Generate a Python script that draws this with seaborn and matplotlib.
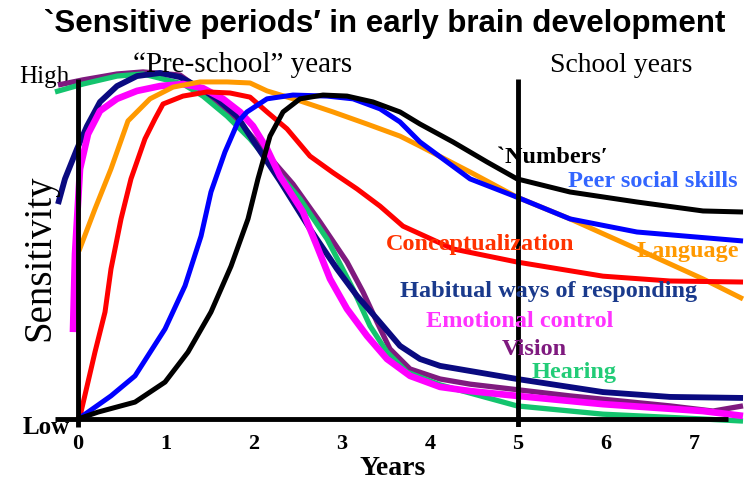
import numpy as np
import pandas as pd
import matplotlib
matplotlib.use("Agg")
import matplotlib.pyplot as plt
import seaborn as sns

# ---- data (years, relative sensitivity 0=Low .. 1=High) ----
vision_x = [-0.227, 0.057, 0.443, 0.739, 1.159, 1.534, 1.920, 2.443, 2.750, 3.057, 3.239, 3.398, 3.545, 3.773, 4.114, 4.455, 5.591, 6.727, 7.216, 7.557]
vision_y = [0.968, 0.983, 1.0, 1.006, 0.997, 0.928, 0.835, 0.681, 0.571, 0.455, 0.368, 0.281, 0.203, 0.145, 0.116, 0.101, 0.067, 0.038, 0.023, 0.038]

hearing_x = [-0.261, 0.057, 0.443, 0.739, 1.193, 1.420, 1.693, 1.955, 2.523, 2.830, 3.125, 3.318, 3.511, 3.739, 4.114, 4.989, 5.966, 7.102, 7.557]
hearing_y = [0.948, 0.971, 0.994, 1.0, 0.971, 0.936, 0.878, 0.812, 0.638, 0.522, 0.377, 0.270, 0.194, 0.136, 0.099, 0.038, 0.014, 0.0, -0.006]

habitual_x = [-0.227, -0.148, -0.011, 0.102, 0.25, 0.443, 0.670, 0.932, 1.159, 1.352, 1.580, 1.807, 1.977, 2.295, 2.636, 2.943, 3.170, 3.398, 3.659, 3.886, 4.114, 4.989, 5.966, 6.727, 7.557]
habitual_y = [0.623, 0.696, 0.783, 0.849, 0.919, 0.965, 0.994, 1.003, 0.991, 0.965, 0.928, 0.878, 0.812, 0.690, 0.551, 0.435, 0.357, 0.290, 0.212, 0.174, 0.154, 0.116, 0.078, 0.064, 0.061]

emotional_x = [-0.057, -0.034, 0.023, 0.114, 0.25, 0.443, 0.670, 0.932, 1.193, 1.420, 1.648, 1.841, 1.989, 2.148, 2.295, 2.557, 2.716, 2.864, 3.057, 3.284, 3.511, 3.773, 4.114, 4.455, 4.989, 5.966, 7.102, 7.557]
emotional_y = [0.252, 0.478, 0.725, 0.826, 0.893, 0.928, 0.951, 0.965, 0.971, 0.959, 0.928, 0.890, 0.849, 0.783, 0.704, 0.600, 0.501, 0.406, 0.319, 0.241, 0.174, 0.125, 0.093, 0.081, 0.067, 0.043, 0.023, 0.009]

language_x = [0.011, 0.193, 0.375, 0.568, 0.818, 1.080, 1.386, 1.693, 1.955, 2.148, 2.523, 2.898, 3.284, 3.659, 3.886, 4.455, 4.989, 5.591, 6.352, 7.102, 7.557]
language_y = [0.487, 0.609, 0.725, 0.864, 0.928, 0.962, 0.977, 0.977, 0.974, 0.951, 0.922, 0.890, 0.855, 0.820, 0.791, 0.716, 0.643, 0.580, 0.493, 0.406, 0.348]

concept_x = [0.0, 0.034, 0.193, 0.307, 0.375, 0.489, 0.602, 0.761, 0.875, 0.966, 1.193, 1.466, 1.727, 1.955, 2.148, 2.375, 2.636, 2.898, 3.170, 3.432, 3.693, 4.261, 4.989, 5.966, 6.727, 7.557]
concept_y = [0.0, 0.020, 0.194, 0.310, 0.435, 0.580, 0.696, 0.812, 0.870, 0.913, 0.936, 0.948, 0.945, 0.933, 0.890, 0.841, 0.762, 0.714, 0.667, 0.617, 0.559, 0.493, 0.455, 0.414, 0.400, 0.397]

peer_x = [0.0, 0.114, 0.375, 0.648, 0.989, 1.216, 1.398, 1.511, 1.670, 1.818, 1.920, 2.148, 2.443, 2.830, 3.125, 3.432, 3.659, 3.886, 4.455, 4.989, 5.591, 6.352, 7.557]
peer_y = [0.0, 0.020, 0.067, 0.125, 0.261, 0.386, 0.530, 0.658, 0.774, 0.861, 0.890, 0.928, 0.939, 0.936, 0.928, 0.899, 0.861, 0.803, 0.696, 0.643, 0.580, 0.542, 0.516]

numbers_x = [0.0, 0.227, 0.648, 0.989, 1.250, 1.511, 1.739, 1.932, 2.045, 2.182, 2.330, 2.523, 2.784, 3.057, 3.352, 3.659, 3.886, 4.261, 4.648, 4.989, 5.591, 6.352, 7.102, 7.557]
numbers_y = [0.0, 0.020, 0.049, 0.107, 0.194, 0.310, 0.443, 0.580, 0.696, 0.820, 0.890, 0.928, 0.939, 0.936, 0.919, 0.890, 0.855, 0.803, 0.745, 0.696, 0.658, 0.629, 0.603, 0.600]

series_names = ["Vision", "Hearing", "Habitual ways of responding", "Emotional control",
                "Language", "Conceptualization", "Peer social skills", "`Numbers\u2032"]
series_x = [vision_x, hearing_x, habitual_x, emotional_x, language_x, concept_x, peer_x, numbers_x]
series_y = [vision_y, hearing_y, habitual_y, emotional_y, language_y, concept_y, peer_y, numbers_y]

line_colors = ["#7f1a7f", "#14c46e", "#0a0a80", "#ff00ff", "#ff9900", "#ff0000", "#0000ff", "#000000"]
line_widths = [3.8, 3.8, 4.2, 4.8, 3.6, 3.6, 3.6, 3.6]

label_colors = ["#7f1a7f", "#22cc77", "#1a3a8c", "#ff33ff", "#ff9900", "#ff3300", "#3366ff", "#000000"]
# label anchor (year, sensitivity) at text baseline centre
label_x = [5.182, 5.636, 5.352, 5.023, 6.932, 4.568, 6.534, 5.386]
label_y = [0.188, 0.122, 0.357, 0.270, 0.473, 0.493, 0.675, 0.745]

year_ticks = [0, 1, 2, 3, 4, 5, 6, 7]
level_ticks = ["Low", "High"]

# ---- figure ----
sns.set_theme(style="white")
plt.rcParams["font.family"] = ["Liberation Serif", "DejaVu Serif"]
plt.rcParams["text.color"] = "black"
plt.rcParams["xtick.color"] = "black"
plt.rcParams["ytick.color"] = "black"
plt.rcParams["axes.labelcolor"] = "black"

W, H = 751, 481
fig = plt.figure(figsize=(W / 100, H / 100), dpi=100)
ax = fig.add_axes([78 / W, (H - 428) / H, 650 / W, 353 / H])
ax.set_xlim(0, 650 / 88)
ax.set_ylim(-8 / 345, 1.0)

df = pd.concat([pd.DataFrame({"year": x, "sens": y, "series": n})
                for n, x, y in zip(series_names, series_x, series_y)], ignore_index=True)

for n, c, lw in zip(series_names, line_colors, line_widths):
    sub = df[df["series"] == n]
    sns.lineplot(data=sub, x="year", y="sens", sort=False, estimator=None,
                 color=c, linewidth=lw, ax=ax, clip_on=False,
                 solid_joinstyle="round", solid_capstyle="butt")

for n, c, lx, ly in zip(series_names, label_colors, label_x, label_y):
    ax.text(lx, ly, n, color=c, fontsize=17.5, fontweight="bold",
            ha="center", va="baseline", clip_on=False)

# axes
for s in ["top", "right"]:
    ax.spines[s].set_visible(False)
for s in ["left", "bottom"]:
    ax.spines[s].set_linewidth(3.5)
    ax.spines[s].set_color("black")
    ax.spines[s].set_capstyle("butt")
ax.spines["bottom"].set_position(("data", 0))
ax.spines["bottom"].set_bounds(-0.26, 650 / 88)
ax.spines["left"].set_bounds(-8 / 345, 340 / 345)
ax.axvline(5, ymin=0, ymax=(340 / 345 + 8 / 345) / (1 + 8 / 345), color="black",
           linewidth=3.5, solid_capstyle="butt")

ax.set_xticks(year_ticks)
ax.set_xticklabels([str(t) for t in year_ticks], fontsize=16, fontweight="bold")
ax.set_yticks([-0.015, 1.0])
ax.set_yticklabels(level_ticks, fontsize=18)
ax.get_yticklabels()[0].set_fontweight("bold")
ax.tick_params(axis="x", length=0, pad=10)
ax.tick_params(axis="y", length=0, pad=6)
ax.set_xlabel("")
ax.set_ylabel("")

fig.text(393 / W, 1 - 475 / H, "Years", ha="center", va="baseline", fontsize=20, fontweight="bold")
fig.text(40 / W, 1 - 258 / H, "Sensitivity", ha="center", va="center", rotation=90, fontsize=28)
fig.text(243 / W, 1 - 72 / H, "\u201cPre-school\u201d years", ha="center", va="baseline", fontsize=21)
fig.text(621 / W, 1 - 72 / H, "School years", ha="center", va="baseline", fontsize=20)
fig.text(385 / W, 1 - 32 / H, "`Sensitive periods\u2032 in early brain development",
         ha="center", va="baseline", fontsize=22.5, fontweight="bold",
         family=["Liberation Sans", "DejaVu Sans"])

fig.savefig("out.png", dpi=100)
